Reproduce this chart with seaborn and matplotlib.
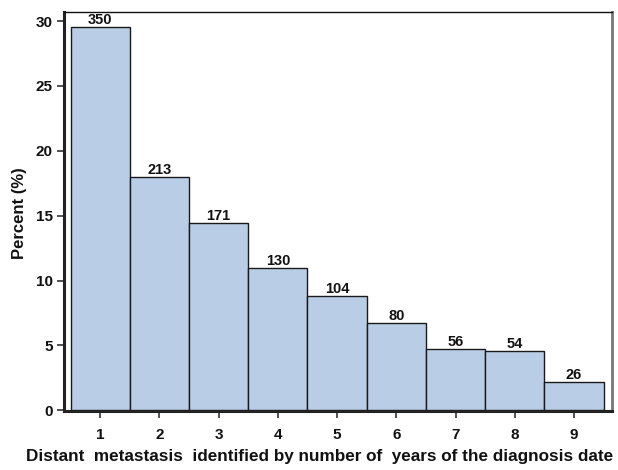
import matplotlib
matplotlib.use("Agg")
import matplotlib.pyplot as plt
import seaborn as sns
import pandas as pd

years = ["1", "2", "3", "4", "5", "6", "7", "8", "9"]
counts = [350, 213, 171, 130, 104, 80, 56, 54, 26]
percent = [29.56, 17.99, 14.44, 10.98, 8.78, 6.76, 4.73, 4.56, 2.20]

df = pd.DataFrame({"year": years, "percent": percent})

sns.set_theme(style="white", rc={"xtick.bottom": True, "ytick.left": True})
plt.rcParams["font.family"] = ["Liberation Sans", "DejaVu Sans"]

fig = plt.figure(figsize=(6.18, 4.70), dpi=100)
ax = fig.add_axes([0.1036, 0.1255, 0.8865, 0.849])

sns.barplot(data=df, x="year", y="percent", color="#b9cee6", saturation=1,
            width=1.0, edgecolor="#1a1a1a", linewidth=1.0, ax=ax)

# count of patients above each bar
for i, (p, c) in enumerate(zip(percent, counts)):
    ax.annotate(str(c), (i, p), xytext=(0, 3), textcoords="offset pixels",
                ha="center", va="baseline", fontsize=10.5, fontweight="bold",
                color="#111111")

ax.set_xlim(-0.61, 8.64)
ax.set_ylim(-0.05, 30.7)
ax.set_yticks([0, 5, 10, 15, 20, 25, 30])
ax.set_xticks(range(9))
ax.set_xticklabels(years)

for lab in ax.get_xticklabels() + ax.get_yticklabels():
    lab.set_fontweight("bold")
    lab.set_fontsize(11)
ax.tick_params(axis="both", which="major", direction="out", length=5, width=1.2,
               color="#333333", labelcolor="#111111", left=True, bottom=True, pad=3)
ax.tick_params(axis="x", pad=7)

ax.set_ylabel("Percent (%)", fontsize=12, fontweight="bold", color="#111111")
ax.yaxis.set_label_coords(-0.068, 0.495)
ax.set_xlabel("Distant  metastasis  identified by number of  years of the diagnosis date",
              fontsize=12.3, fontweight="bold", color="#111111")
ax.xaxis.set_label_coords(0.467, -0.096)

for side in ["left", "bottom"]:
    ax.spines[side].set_color("#222222")
    ax.spines[side].set_linewidth(2.2)
ax.spines["top"].set_color("#111111")
ax.spines["top"].set_linewidth(1.0)
ax.spines["right"].set_color("#777777")
ax.spines["right"].set_linewidth(2.0)

fig.savefig("out.png", dpi=100)
